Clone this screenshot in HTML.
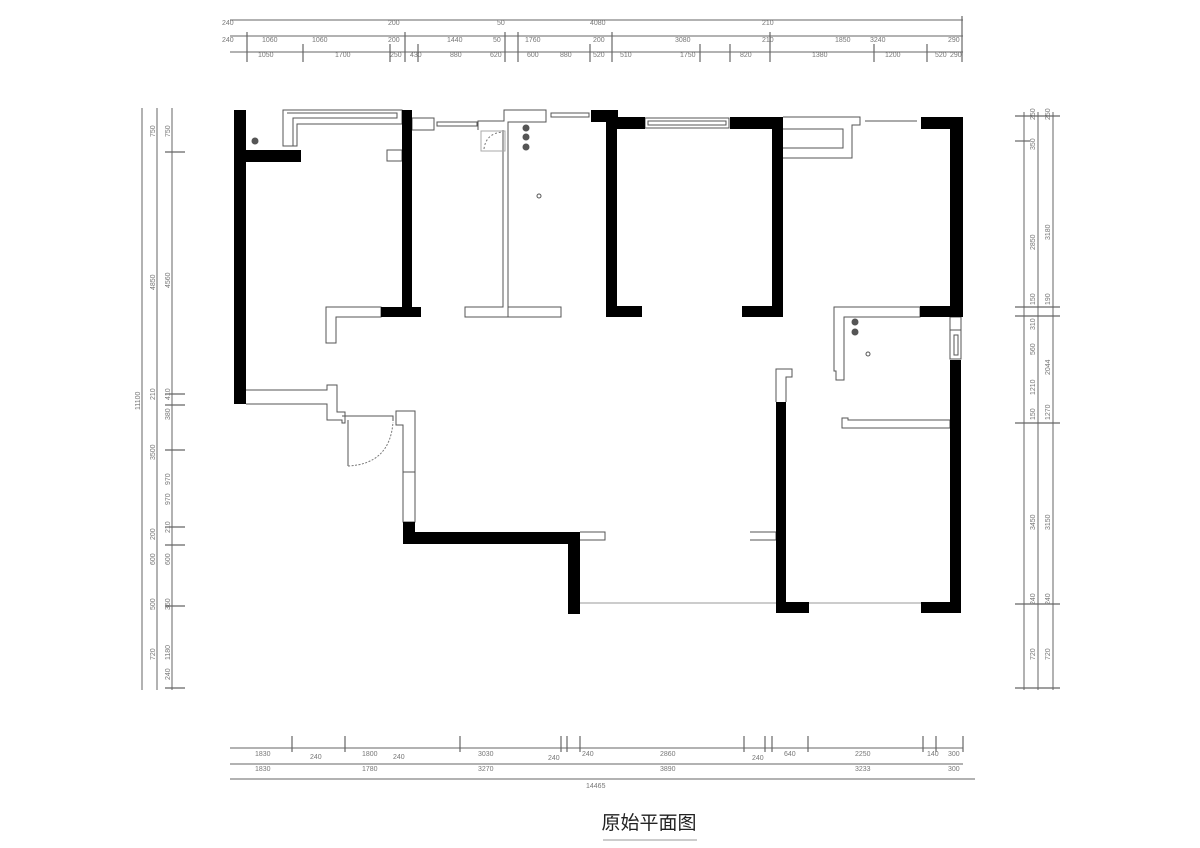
<!DOCTYPE html>
<html><head><meta charset="utf-8"><style>
html,body{margin:0;padding:0;background:#fff}
svg{display:block}
.d{font-family:"Liberation Sans",sans-serif;font-size:7px;fill:#777}
</style></head><body>
<svg width="1200" height="848" viewBox="0 0 1200 848" xmlns="http://www.w3.org/2000/svg">
<rect width="1200" height="848" fill="#fff"/>
<!-- top dimensions -->
<g stroke="#666" stroke-width="1" fill="none">
<line x1="230" y1="20" x2="963" y2="20"/>
<line x1="230" y1="36" x2="963" y2="36"/>
<line x1="230" y1="52" x2="963" y2="52"/>
<g stroke-width="1.2">
<line x1="247" y1="32" x2="247" y2="62"/><line x1="303" y1="44" x2="303" y2="62"/><line x1="390" y1="44" x2="390" y2="62"/>
<line x1="405" y1="32" x2="405" y2="62"/><line x1="418" y1="44" x2="418" y2="62"/><line x1="505" y1="32" x2="505" y2="62"/>
<line x1="518" y1="32" x2="518" y2="62"/><line x1="590" y1="44" x2="590" y2="62"/><line x1="612" y1="32" x2="612" y2="62"/>
<line x1="700" y1="44" x2="700" y2="62"/><line x1="730" y1="44" x2="730" y2="62"/><line x1="770" y1="32" x2="770" y2="62"/>
<line x1="874" y1="44" x2="874" y2="62"/><line x1="927" y1="44" x2="927" y2="62"/><line x1="962" y1="16" x2="962" y2="62"/>
</g>
</g>
<g class="d">
<text x="222" y="25">240</text><text x="222" y="42">240</text><text x="262" y="42">1060</text><text x="258" y="57">1050</text><text x="335" y="57">1700</text><text x="312" y="42">1060</text>
<text x="388" y="25">200</text><text x="388" y="42">200</text><text x="390" y="57">250</text><text x="410" y="57">430</text><text x="447" y="42">1440</text><text x="450" y="57">880</text><text x="490" y="57">620</text>
<text x="497" y="25">50</text><text x="493" y="42">50</text><text x="525" y="42">1760</text><text x="527" y="57">600</text><text x="560" y="57">880</text><text x="593" y="42">200</text><text x="593" y="57">520</text>
<text x="590" y="25">4080</text><text x="620" y="57">510</text><text x="675" y="42">3080</text><text x="680" y="57">1750</text><text x="740" y="57">820</text>
<text x="762" y="25">210</text><text x="762" y="42">210</text><text x="812" y="57">1380</text><text x="835" y="42">1850</text><text x="870" y="42">3240</text><text x="885" y="57">1200</text>
<text x="935" y="57">520</text><text x="948" y="42">290</text><text x="950" y="57">290</text>
</g>
<!-- bottom dimensions -->
<g stroke="#666" stroke-width="1" fill="none">
<line x1="230" y1="748" x2="963" y2="748"/>
<line x1="230" y1="764" x2="963" y2="764"/>
<line x1="230" y1="779" x2="975" y2="779"/>
<g stroke-width="1.2">
<line x1="292" y1="736" x2="292" y2="752"/><line x1="345" y1="736" x2="345" y2="752"/><line x1="460" y1="736" x2="460" y2="752"/>
<line x1="561" y1="736" x2="561" y2="752"/><line x1="567" y1="736" x2="567" y2="752"/><line x1="580" y1="736" x2="580" y2="752"/>
<line x1="744" y1="736" x2="744" y2="752"/><line x1="765" y1="736" x2="765" y2="752"/><line x1="772" y1="736" x2="772" y2="752"/>
<line x1="808" y1="736" x2="808" y2="752"/><line x1="923" y1="736" x2="923" y2="752"/><line x1="936" y1="736" x2="936" y2="752"/>
<line x1="963" y1="736" x2="963" y2="752"/>
</g>
</g>
<g class="d">
<text x="255" y="756">1830</text><text x="255" y="771">1830</text><text x="310" y="759">240</text><text x="362" y="756">1800</text><text x="362" y="771">1780</text><text x="393" y="759">240</text>
<text x="478" y="756">3030</text><text x="478" y="771">3270</text><text x="548" y="760">240</text><text x="582" y="756">240</text><text x="660" y="756">2860</text><text x="660" y="771">3890</text>
<text x="752" y="760">240</text><text x="784" y="756">640</text><text x="855" y="756">2250</text><text x="855" y="771">3233</text><text x="927" y="756">140</text><text x="948" y="756">300</text><text x="948" y="771">300</text>
<text x="586" y="788">14465</text>
</g>
<!-- left dimensions -->
<g stroke="#666" stroke-width="1" fill="none">
<line x1="142" y1="108" x2="142" y2="690"/>
<line x1="157" y1="108" x2="157" y2="690"/>
<line x1="172" y1="108" x2="172" y2="690"/>
<g stroke-width="1.2">
<line x1="165" y1="152" x2="185" y2="152"/><line x1="165" y1="394" x2="185" y2="394"/><line x1="165" y1="405" x2="185" y2="405"/>
<line x1="165" y1="450" x2="185" y2="450"/><line x1="165" y1="527" x2="185" y2="527"/><line x1="165" y1="545" x2="185" y2="545"/>
<line x1="165" y1="606" x2="185" y2="606"/><line x1="165" y1="688" x2="185" y2="688"/>
</g>
</g>
<g class="d" transform="rotate(-90)">
<text x="-137" y="155">750</text><text x="-137" y="170">750</text><text x="-290" y="155">4850</text><text x="-288" y="170">4560</text>
<text x="-400" y="155">210</text><text x="-400" y="170">410</text><text x="-420" y="170">380</text><text x="-460" y="155">3500</text><text x="-485" y="170">970</text><text x="-505" y="170">970</text>
<text x="-540" y="155">200</text><text x="-533" y="170">210</text><text x="-565" y="155">600</text><text x="-565" y="170">600</text><text x="-610" y="155">500</text><text x="-610" y="170">360</text>
<text x="-660" y="155">720</text><text x="-660" y="170">1180</text><text x="-680" y="170">240</text><text x="-410" y="140">11100</text>
</g>
<!-- right dimensions -->
<g stroke="#666" stroke-width="1" fill="none">
<line x1="1024" y1="112" x2="1024" y2="690"/>
<line x1="1038" y1="112" x2="1038" y2="690"/>
<line x1="1053" y1="112" x2="1053" y2="690"/>
<g stroke-width="1.2">
<line x1="1015" y1="116" x2="1060" y2="116"/><line x1="1015" y1="141" x2="1030" y2="141"/><line x1="1015" y1="307" x2="1060" y2="307"/>
<line x1="1015" y1="316" x2="1060" y2="316"/><line x1="1015" y1="423" x2="1060" y2="423"/><line x1="1015" y1="604" x2="1060" y2="604"/>
<line x1="1015" y1="688" x2="1060" y2="688"/>
</g>
</g>
<g class="d" transform="rotate(-90)">
<text x="-120" y="1035">250</text><text x="-120" y="1050">250</text><text x="-150" y="1035">350</text><text x="-250" y="1035">2850</text><text x="-240" y="1050">3180</text>
<text x="-305" y="1035">150</text><text x="-305" y="1050">190</text><text x="-330" y="1035">310</text><text x="-355" y="1035">560</text><text x="-375" y="1050">2044</text>
<text x="-395" y="1035">1210</text><text x="-420" y="1035">150</text><text x="-420" y="1050">1270</text><text x="-530" y="1035">3450</text><text x="-530" y="1050">3150</text>
<text x="-605" y="1035">240</text><text x="-605" y="1050">240</text><text x="-660" y="1035">720</text><text x="-660" y="1050">720</text>
</g>

<!-- thin outlines -->
<g fill="none" stroke="#555" stroke-width="1">
<path d="M283 110 H402 V124 H297 V146 H283 Z"/>
<path d="M287 113 H397 V118 H293 V146"/>
<rect x="387" y="150" width="15" height="11"/>
<rect x="412" y="118" width="22" height="12"/>
<rect x="437" y="122" width="40" height="4"/>
<path d="M478 130 V121 H504 V110 H546 V122 H508 V307 H561 V317 H508 V130"/>
<path d="M503 130 V307 H465 V317 H508"/>
<rect x="481" y="131" width="24" height="20" stroke="#aaa"/>
<path d="M484 149 Q486 133 503 132" stroke-dasharray="2 2" stroke="#777"/>
<rect x="551" y="113" width="38" height="4"/>
<rect x="645" y="118" width="84" height="10"/>
<rect x="648" y="121" width="78" height="4"/>
<path d="M783 117 H860 V125 H852 V158 H783"/>
<path d="M783 129 H843 V148 H783"/>
<line x1="865" y1="121" x2="917" y2="121"/>
<path d="M326 307 H381 V317 H336 V343 H326 Z"/>
<path d="M246 390 H327 V385 H337 V412 H345 V423 H342 V420 H327 V404 H246"/>
<path d="M342 416 H393 V421"/>
<path d="M396 420 V411 H415 V522 H403 V472 H415 M403 472 V425 H396 V420"/>
<path d="M580 532 H605 V540 H580"/>
<path d="M750 532 H776 V540 H750"/>
<path d="M776 402 V369 H792 V377 H786 V402"/>
<path d="M834 307 H920 V317 H844 V380 H836 V371 H834 Z"/>
<rect x="950" y="317" width="11" height="13"/>
<rect x="950" y="330" width="11" height="29"/>
<rect x="954" y="335" width="4" height="20"/>
<path d="M842 418 V428 H950 V420 H848 V418 Z"/>
<line x1="580" y1="603" x2="776" y2="603" stroke="#999"/>
<line x1="809" y1="603" x2="921" y2="603" stroke="#999"/>
<line x1="348" y1="420" x2="348" y2="466"/>
<path d="M348 466 Q390 464 393 422" stroke-dasharray="2 1.5" stroke="#777"/>
</g>
<!-- fixtures -->
<g fill="#555">
<circle cx="255" cy="141" r="3.5"/><circle cx="526" cy="128" r="3.5"/><circle cx="526" cy="137" r="3.5"/><circle cx="526" cy="147" r="3.5"/>
<circle cx="855" cy="322" r="3.5"/><circle cx="855" cy="332" r="3.5"/>
</g>
<circle cx="539" cy="196" r="2" fill="none" stroke="#555"/>
<circle cx="868" cy="354" r="2" fill="none" stroke="#555"/>
<!-- black walls -->
<g fill="#000">
<rect x="234" y="110" width="12" height="294"/>
<rect x="246" y="150" width="55" height="12"/>
<rect x="402" y="110" width="10" height="207"/>
<rect x="381" y="307" width="40" height="10"/>
<rect x="591" y="110" width="27" height="12"/>
<rect x="606" y="117" width="39" height="12"/>
<rect x="606" y="117" width="11" height="200"/>
<rect x="606" y="306" width="36" height="11"/>
<rect x="730" y="117" width="53" height="12"/>
<rect x="772" y="117" width="11" height="200"/>
<rect x="742" y="306" width="41" height="11"/>
<rect x="921" y="117" width="42" height="12"/>
<rect x="950" y="117" width="13" height="200"/>
<rect x="920" y="306" width="43" height="11"/>
<rect x="950" y="360" width="11" height="253"/>
<rect x="921" y="602" width="40" height="11"/>
<rect x="776" y="402" width="10" height="211"/>
<rect x="776" y="602" width="33" height="11"/>
<rect x="403" y="522" width="12" height="22"/>
<rect x="403" y="532" width="177" height="12"/>
<rect x="568" y="532" width="12" height="82"/>
</g>
<!-- title -->
<text x="649" y="829" text-anchor="middle" font-family="'Liberation Sans','Noto Sans CJK SC',sans-serif" font-size="19" fill="#222">原始平面图</text>
<line x1="603" y1="840" x2="697" y2="840" stroke="#999" stroke-width="1"/>
</svg>
</body></html>
